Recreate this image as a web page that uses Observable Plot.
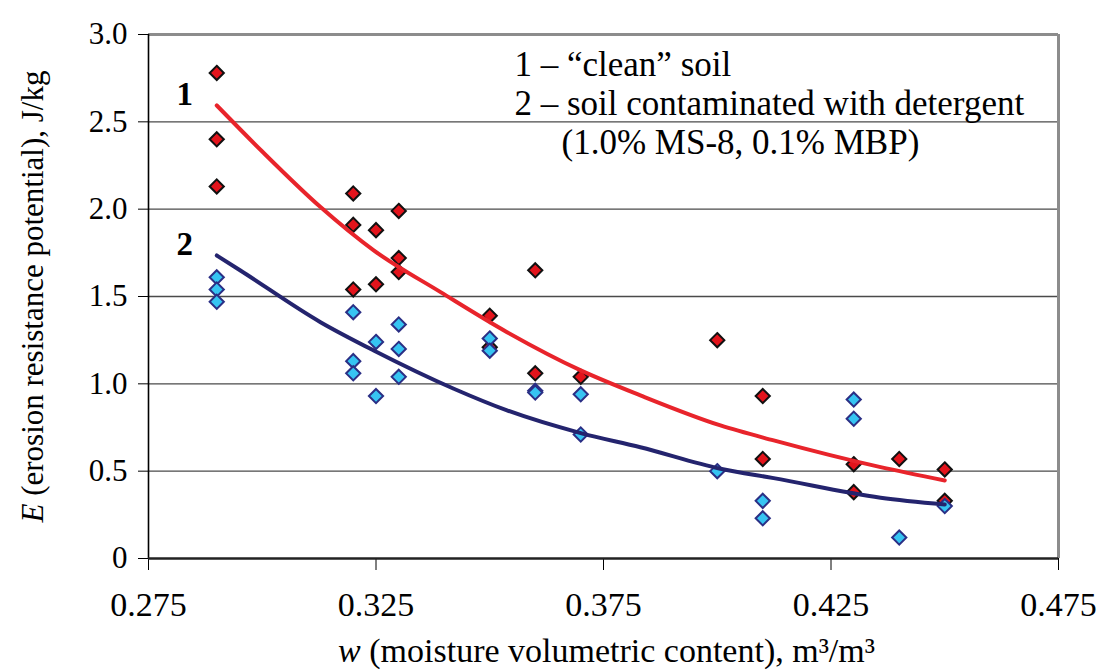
<!DOCTYPE html>
<html>
<head>
<meta charset="utf-8">
<script src="https://cdn.jsdelivr.net/npm/d3@7"></script>
<script src="https://cdn.jsdelivr.net/npm/@observablehq/plot@0.6"></script>
<style>
  html, body { margin: 0; padding: 0; background: #fff; }
  #chart { width: 1114px; height: 671px; }
  #chart svg, #chart svg text, #chart svg tspan { font-family: "Liberation Serif", "Times New Roman", serif; }
</style>
</head>
<body>
<div id="chart"></div>
<script>
// ---- data ----
const xTicks = [0.275, 0.325, 0.375, 0.425, 0.475];
const yTicks = [0, 0.5, 1.0, 1.5, 2.0, 2.5, 3.0];

// series 1: "clean" soil (measured points)
const cleanW = [0.29, 0.29, 0.29, 0.32, 0.32, 0.32, 0.325, 0.325, 0.33, 0.33, 0.33,
                0.35, 0.35, 0.36, 0.36, 0.37, 0.40, 0.41, 0.41, 0.43, 0.43, 0.44, 0.45, 0.45];
const cleanE = [2.78, 2.40, 2.13, 2.09, 1.91, 1.54, 1.88, 1.57, 1.99, 1.72, 1.64,
                1.39, 1.21, 1.65, 1.06, 1.04, 1.25, 0.93, 0.57, 0.54, 0.38, 0.57, 0.51, 0.33];

// series 2: soil contaminated with detergent (measured points)
const detW = [0.29, 0.29, 0.29, 0.32, 0.32, 0.32, 0.325, 0.325, 0.33, 0.33, 0.33,
              0.35, 0.35, 0.36, 0.36, 0.37, 0.37, 0.40, 0.41, 0.41, 0.43, 0.43, 0.44, 0.45];
const detE = [1.61, 1.54, 1.47, 1.41, 1.13, 1.06, 1.24, 0.93, 1.34, 1.20, 1.04,
              1.26, 1.19, 0.96, 0.95, 0.94, 0.71, 0.50, 0.33, 0.23, 0.91, 0.80, 0.12, 0.30];

// trend curves
const cleanFitW = [0.29, 0.30, 0.3128, 0.3245, 0.3392, 0.3538, 0.37, 0.3831, 0.4007, 0.4124, 0.4359, 0.45];
const cleanFitE = [2.594, 2.33, 2.012, 1.764, 1.525, 1.296, 1.077, 0.934, 0.762, 0.676, 0.523, 0.447];
const detFitW = [0.29, 0.2952, 0.3128, 0.3245, 0.3421, 0.3538, 0.37, 0.3831, 0.4007, 0.4124, 0.4359, 0.45];
const detFitE = [1.735, 1.649, 1.353, 1.191, 0.972, 0.848, 0.718, 0.637, 0.514, 0.46, 0.348, 0.309];

const legendLines = ["1 \u2013 \u201Cclean\u201D soil", "2 \u2013 soil contaminated with detergent", "(1.0% MS-8, 0.1% MBP)"];
const curveLabels = ["1", "2"];
const yTitle = ["E", " (erosion resistance potential), J/kg"];
const xTitle = ["w", " (moisture volumetric content), m\u00B3/m\u00B3"];

// ---- tables built from the arrays ----
const cleanPts = cleanW.map((w, i) => ({w, e: cleanE[i]}));
const detPts = detW.map((w, i) => ({w, e: detE[i]}));
const cleanFit = cleanFitW.map((w, i) => ({w, e: cleanFitE[i]}));
const detFit = detFitW.map((w, i) => ({w, e: detFitE[i]}));

const FONT = "Liberation Serif, Times New Roman, serif";

const plot = Plot.plot({
  width: 1114,
  height: 671,
  marginLeft: 148,
  marginRight: 56,
  marginTop: 34,
  marginBottom: 113,
  style: "font-family: 'Liberation Serif', 'Times New Roman', serif; font-size: 30px; color: #000; background: #fff;",
  x: {domain: [0.275, 0.475]},
  y: {domain: [0, 3]},
  marks: [
    Plot.ruleY(yTicks.filter(d => d > 0 && d < 3), {stroke: "#4a4a4a", strokeWidth: 1.3}),
    Plot.ruleY([3], {stroke: "#8c8c8c", strokeWidth: 3}),
    Plot.ruleX([0.475], {stroke: "#8c8c8c", strokeWidth: 3}),
    Plot.axisY({ticks: yTicks, tickSize: 10, tickPadding: 11, label: null,
      tickFormat: d => d === 0 ? "0" : d.toFixed(1), fontSize: 31, fontFamily: FONT, stroke: "#000"}),
    Plot.axisX({ticks: xTicks, tickSize: 12, tickPadding: 21, label: null,
      tickFormat: d3.format(".3f"), fontSize: 34, fontFamily: FONT, stroke: "#000"}),
    Plot.ruleX([0.275], {stroke: "#000", strokeWidth: 1.6}),
    Plot.ruleY([0], {stroke: "#222", strokeWidth: 2.5}),
    Plot.dot(cleanPts, {x: "w", y: "e", symbol: "diamond2", r: 6.4,
      fill: "#e3141c", stroke: "#111", strokeWidth: 2}),
    Plot.dot(detPts, {x: "w", y: "e", symbol: "diamond2", r: 6.4,
      fill: "#36c4f2", stroke: "#2b2f85", strokeWidth: 2}),
    Plot.line(cleanFit, {x: "w", y: "e", stroke: "#e8242b", strokeWidth: 4, curve: "monotone-x"}),
    Plot.line(detFit, {x: "w", y: "e", stroke: "#24246e", strokeWidth: 4, curve: "monotone-x"}),
    Plot.text([cleanFit[0]], {x: "w", y: "e", text: () => curveLabels[0], dx: -32, dy: 0,
      lineAnchor: "bottom", fontSize: 33, fontWeight: "bold", fontFamily: FONT}),
    Plot.text([detFit[0]], {x: "w", y: "e", text: () => curveLabels[1], dx: -32, dy: 0,
      lineAnchor: "bottom", fontSize: 33, fontWeight: "bold", fontFamily: FONT}),
    Plot.text([legendLines[0]], {frameAnchor: "top-left", text: d => d, dx: 366, dy: 41,
      textAnchor: "start", lineAnchor: "bottom", fontSize: 35, fontFamily: FONT}),
    Plot.text([legendLines[1]], {frameAnchor: "top-left", text: d => d, dx: 366, dy: 80,
      textAnchor: "start", lineAnchor: "bottom", fontSize: 35, fontFamily: FONT}),
    Plot.text([legendLines[2]], {frameAnchor: "top-left", text: d => d, dx: 413, dy: 119,
      textAnchor: "start", lineAnchor: "bottom", fontSize: 35, fontFamily: FONT}),
    Plot.text([yTitle.join("")], {frameAnchor: "left", text: d => d, rotate: -90, dx: -106,
      textAnchor: "middle", lineAnchor: "bottom", fontSize: 31, fontFamily: FONT, className: "ytitle"}),
    Plot.text([xTitle.join("")], {frameAnchor: "bottom", text: d => d, dx: 3, dy: 103,
      textAnchor: "middle", lineAnchor: "bottom", fontSize: 34, fontFamily: FONT, className: "xtitle"})
  ]
});

document.getElementById("chart").appendChild(plot);

// italic variable letter in the axis titles
function italicize(cls, parts) {
  d3.select(plot).selectAll(`g.${cls} text`).each(function() {
    const t = d3.select(this);
    t.text(null);
    t.append("tspan").attr("font-style", "italic").text(parts[0]);
    t.append("tspan").text(parts[1]);
  });
}
italicize("ytitle", yTitle);
italicize("xtitle", xTitle);
</script>
</body>
</html>
